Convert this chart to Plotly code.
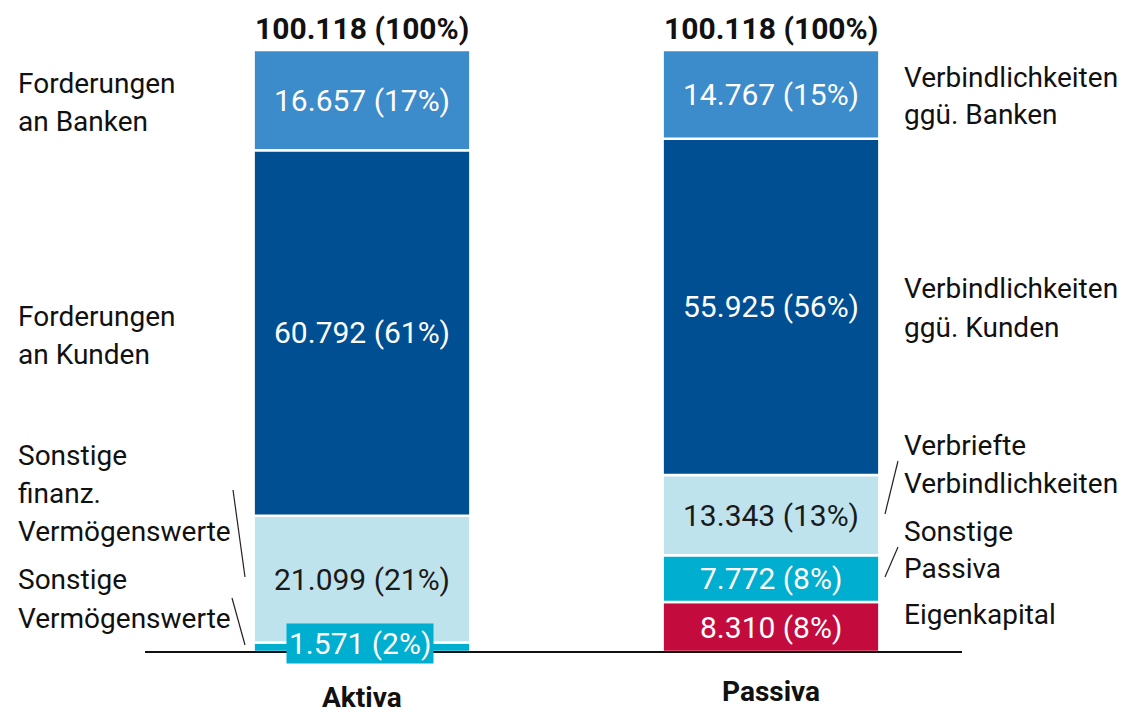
import plotly.graph_objects as go

# Balance sheet structure (EUR m)
sides = ["Aktiva", "Passiva"]
totals = [100.118, 100.118]

aktiva_items = ["Sonstige Vermögenswerte", "Sonstige finanz. Vermögenswerte",
                "Forderungen an Kunden", "Forderungen an Banken"]
aktiva_values = [1.571, 21.099, 60.792, 16.657]
aktiva_pct = [2, 21, 61, 17]

passiva_items = ["Eigenkapital", "Sonstige Passiva", "Verbriefte Verbindlichkeiten",
                 "Verbindlichkeiten ggü. Kunden", "Verbindlichkeiten ggü. Banken"]
passiva_values = [8.310, 7.772, 13.343, 55.925, 14.767]
passiva_pct = [8, 8, 13, 56, 15]

aktiva_colors = ["#00aecf", "#bfe3ed", "#004f93", "#3c8bcb"]
passiva_colors = ["#c30c3d", "#00aecf", "#bfe3ed", "#004f93", "#3c8bcb"]
aktiva_text = ["white", "#1a1a1a", "white", "white"]
passiva_text = ["white", "white", "#1a1a1a", "white", "white"]

W, H = 1122, 715
FONT = "Roboto"
FS_SIDE = 28
FS_BAR = 30
FS_TOTAL = 30
FS_CAT = 28
BAR_W = 0.53
INK = "#111111"


def de(v):
    return f"{v:.3f}"


def px(x):
    return x / W


def py(y):
    return 1 - y / H


fig = go.Figure()
annotations = []

for xi, values, colors, pct, tcol in [
    (0, aktiva_values, aktiva_colors, aktiva_pct, aktiva_text),
    (1, passiva_values, passiva_colors, passiva_pct, passiva_text),
]:
    base = 0.0
    for v, c, p, tc in zip(values, colors, pct, tcol):
        fig.add_trace(go.Bar(
            x=[xi], y=[v], base=[base], width=BAR_W,
            marker=dict(color=c, line=dict(color="white", width=2.5)),
            showlegend=False, hoverinfo="skip",
        ))
        mid = base + v / 2
        label = f"{de(v)} ({p}%)"
        if v < 3:
            # segment too thin for its label: boxed label over the segment
            annotations.append(dict(
                x=xi - 0.005, y=mid, xref="x", yref="y", text=label, showarrow=False,
                yanchor="middle", font=dict(family=FONT, size=FS_BAR, color="white"),
                bgcolor="#00aecf", borderpad=2, yshift=4,
            ))
        else:
            annotations.append(dict(
                x=xi, y=mid, xref="x", yref="y", text=label, showarrow=False,
                yanchor="middle", font=dict(family=FONT, size=FS_BAR, color=tc),
            ))
        base += v

# totals above the bars
for xi, t in enumerate(totals):
    annotations.append(dict(
        x=xi, y=t, xref="x", yref="y", text=f"<b>{de(t)} (100%)</b>",
        showarrow=False, yanchor="middle", yshift=22,
        font=dict(family=FONT, size=FS_TOTAL, color=INK),
    ))

# category labels below the axis
for xi, name, centre_y in [(0, sides[0], 697), (1, sides[1], 691)]:
    annotations.append(dict(x=xi, y=py(centre_y), xref="x", yref="paper",
                            text=f"<b>{name}</b>", showarrow=False, yanchor="middle",
                            font=dict(family=FONT, size=FS_CAT, color=INK)))

# item names beside the bars, one annotation per line (pixel baselines)
left_names = [
    (["Forderungen", "an Banken"], [92, 130]),
    (["Forderungen", "an Kunden"], [325, 363]),
    (["Sonstige", "finanz.", "Vermögenswerte"], [464, 502, 540]),
    (["Sonstige", "Vermögenswerte"], [588, 627]),
]
right_names = [
    (["Verbindlichkeiten", "ggü. Banken"], [86, 123]),
    (["Verbindlichkeiten", "ggü. Kunden"], [297, 336]),
    (["Verbriefte", "Verbindlichkeiten"], [454, 492]),
    (["Sonstige", "Passiva"], [540, 577]),
    (["Eigenkapital"], [623]),
]
for x_left, groups in [(16, left_names), (902, right_names)]:
    for lines, baselines in groups:
        for txt, b in zip(lines, baselines):
            annotations.append(dict(
                x=px(x_left), y=py(b - 0.31 * FS_SIDE), xref="paper", yref="paper",
                text=txt, showarrow=False, xanchor="left", yanchor="middle", align="left",
                font=dict(family=FONT, size=FS_SIDE, color=INK)))

shapes = []
# leader lines
for x0, y0, x1, y1 in [(233, 490, 245, 577), (232, 598, 245, 645),
                       (898, 461, 885, 514), (898, 547, 885, 577)]:
    shapes.append(dict(type="line", xref="paper", yref="paper",
                       x0=px(x0), y0=py(y0), x1=px(x1), y1=py(y1),
                       line=dict(color="#222222", width=1.2)))
# baseline
shapes.append(dict(type="line", xref="paper", yref="y", x0=px(145), x1=px(962), y0=0, y1=0,
                   line=dict(color=INK, width=2)))

# axis ranges chosen so that bar centres sit at 362 px / 771 px and the baseline at 652 px
unit_x = 409.0
unit_y = 602.0 / totals[0]
fig.update_layout(
    width=W, height=H,
    margin=dict(l=0, r=0, t=0, b=0),
    paper_bgcolor="white", plot_bgcolor="white",
    barmode="overlay",
    xaxis=dict(range=[-362 / unit_x, (W - 362) / unit_x], visible=False, fixedrange=True),
    yaxis=dict(range=[-(H - 652) / unit_y, 652 / unit_y], visible=False, fixedrange=True),
    annotations=annotations,
    shapes=shapes,
    font=dict(family=FONT),
)

fig.write_html("out.html")
